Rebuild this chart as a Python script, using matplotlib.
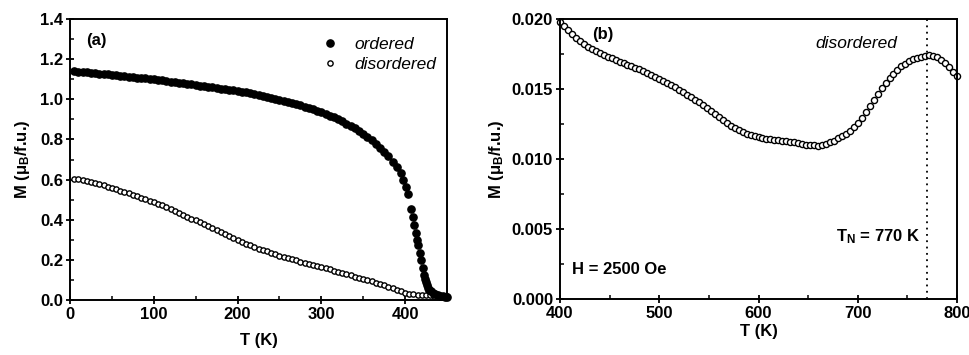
import numpy as np
import matplotlib
matplotlib.use('Agg')
from matplotlib import pyplot as plt

plt.rcParams['font.family'] = ['Liberation Sans', 'DejaVu Sans']
plt.rcParams['mathtext.fontset'] = 'custom'
plt.rcParams['mathtext.rm'] = 'Liberation Sans:bold'
plt.rcParams['mathtext.bf'] = 'Liberation Sans:bold'
plt.rcParams['mathtext.it'] = 'Liberation Sans:italic:bold'

# ---- panel (a) data ----
T_ord = list(range(5, 400, 5)) + [398, 401, 404, 407.5, 409.5, 411, 413, 414.5, 415.5, 417.5,
                                  419.5, 421.5, 423, 424, 425, 426, 427.5, 429, 431, 433,
                                  436, 439, 442, 445, 448, 450]
M_ord = [1.140, 1.138, 1.136, 1.134, 1.132, 1.130, 1.128, 1.126, 1.124, 1.121,
         1.119, 1.117, 1.115, 1.113, 1.111, 1.108, 1.106, 1.104, 1.101, 1.099,
         1.096, 1.094, 1.091, 1.088, 1.085, 1.083, 1.080, 1.077, 1.074, 1.071,
         1.068, 1.065, 1.062, 1.059, 1.056, 1.053, 1.050, 1.047, 1.044, 1.041,
         1.037, 1.034, 1.030, 1.026, 1.022, 1.018, 1.013, 1.008, 1.003, 0.998,
         0.993, 0.988, 0.982, 0.976, 0.970, 0.963, 0.957, 0.950, 0.943, 0.936,
         0.928, 0.919, 0.910, 0.900, 0.890, 0.879, 0.867, 0.855, 0.842, 0.828,
         0.812, 0.796, 0.778, 0.759, 0.738, 0.715, 0.690, 0.662, 0.632,
         0.600, 0.565, 0.530, 0.455, 0.415, 0.374, 0.335, 0.300, 0.274, 0.236,
         0.200, 0.158, 0.125, 0.105, 0.088, 0.075, 0.062, 0.052, 0.043, 0.036,
         0.029, 0.024, 0.021, 0.019, 0.017, 0.016]

T_dis = np.arange(5, 451, 5)
M_dis = [0.603, 0.601, 0.598, 0.594, 0.589, 0.583, 0.577, 0.571, 0.565, 0.558,
         0.552, 0.545, 0.538, 0.531, 0.524, 0.516, 0.509, 0.501, 0.494, 0.487,
         0.479, 0.471, 0.462, 0.453, 0.444, 0.435, 0.425, 0.416, 0.406, 0.397,
         0.387, 0.377, 0.367, 0.357, 0.347, 0.337, 0.327, 0.317, 0.308, 0.298,
         0.289, 0.281, 0.272, 0.264, 0.256, 0.249, 0.242, 0.235, 0.228, 0.221,
         0.215, 0.209, 0.203, 0.197, 0.191, 0.186, 0.180, 0.174, 0.169, 0.163,
         0.157, 0.152, 0.146, 0.140, 0.134, 0.128, 0.123, 0.117, 0.111, 0.105,
         0.099, 0.093, 0.087, 0.081, 0.074, 0.066, 0.058, 0.050, 0.043, 0.037,
         0.032, 0.029, 0.027, 0.025, 0.024, 0.023, 0.022, 0.021, 0.020, 0.020]

# ---- panel (b) data ----
T_b = np.arange(400, 801, 4)
M_b = [0.01980, 0.01950, 0.01920, 0.01890, 0.01865, 0.01840, 0.01820, 0.01800, 0.01785, 0.01770,
       0.01755, 0.01742, 0.01730, 0.01718, 0.01706, 0.01695, 0.01684, 0.01673, 0.01662, 0.01651,
       0.01640, 0.01627, 0.01614, 0.01601, 0.01587, 0.01573, 0.01558, 0.01543, 0.01527, 0.01511,
       0.01494, 0.01477, 0.01460, 0.01442, 0.01424, 0.01405, 0.01385, 0.01364, 0.01342, 0.01320,
       0.01298, 0.01277, 0.01257, 0.01239, 0.01222, 0.01207, 0.01193, 0.01181, 0.01171, 0.01162,
       0.01155, 0.01150, 0.01146, 0.01142, 0.01138, 0.01134, 0.01130, 0.01126, 0.01122, 0.01118,
       0.01112, 0.01105, 0.01100, 0.01098, 0.01097, 0.01095, 0.01098, 0.01110, 0.01118, 0.01130,
       0.01148, 0.01165, 0.01182, 0.01202, 0.01228, 0.01258, 0.01295, 0.01335, 0.01378, 0.01422,
       0.01465, 0.01505, 0.01543, 0.01578, 0.01610, 0.01638, 0.01662, 0.01682, 0.01698, 0.01711,
       0.01722, 0.01732, 0.01738, 0.01740, 0.01736, 0.01725, 0.01708, 0.01687, 0.01658, 0.01622,
       0.01595]
T_N = 770

fig = plt.figure(figsize=(9.69, 3.55), dpi=100)
ax1 = fig.add_axes([70/969, 1 - 300/355, 377/969, 281/355])
ax2 = fig.add_axes([560/969, 1 - 299/355, 397/969, 280/355])

fs = 12
ylab = r'M ($\mathregular{\mu}_\mathregular{B}$/f.u.)'


def style(ax):
    for s in ax.spines.values():
        s.set_linewidth(1.4)
    ax.tick_params(which='major', direction='inout', length=6, width=1.3,
                   top=False, right=False, labelsize=fs, pad=2)
    ax.tick_params(which='minor', direction='in', length=3, width=1.1,
                   top=False, right=False)
    for lab in ax.get_xticklabels() + ax.get_yticklabels():
        lab.set_fontweight('bold')


# panel (a)
ax1.plot(T_ord, M_ord, 'o', color='black', ms=5.2, mec='black', label='ordered', clip_on=False, zorder=3)
ax1.plot(T_dis, M_dis, 'o', mfc='white', mec='black', ms=3.8, mew=1.0, label='disordered', clip_on=False)
ax1.set_xlim(0, 450)
ax1.set_ylim(0, 1.4)
ax1.set_xticks([0, 100, 200, 300, 400])
ax1.set_xticks(np.arange(50, 451, 100), minor=True)
ax1.set_yticks(np.arange(0, 1.41, 0.2))
ax1.set_yticks(np.arange(0.1, 1.4, 0.2), minor=True)
ax1.yaxis.set_major_formatter(matplotlib.ticker.FormatStrFormatter('%.1f'))
ax1.set_xlabel('T (K)', fontsize=fs, fontweight='bold', labelpad=8)
ax1.set_ylabel(ylab, fontsize=fs, fontweight='bold', labelpad=6)
ax1.text(0.042, 0.925, '(a)', transform=ax1.transAxes, fontsize=fs, fontweight='bold', va='center')
leg = ax1.legend(loc='upper right', bbox_to_anchor=(1.0, 0.975), frameon=False,
                 prop={'style': 'italic', 'size': 12.5}, borderaxespad=0.2,
                 handlelength=1.0, handletextpad=0.9, labelspacing=0.3, markerscale=1.0)
style(ax1)

# panel (b)
ax2.plot(T_b, M_b, 'o', mfc='white', mec='black', ms=4.4, mew=1.0, clip_on=False)
ax2.axvline(T_N, color='black', ls=(0, (1, 2.5)), lw=1.3)
ax2.set_xlim(400, 800)
ax2.set_ylim(0, 0.020)
ax2.set_xticks([400, 500, 600, 700, 800])
ax2.set_xticks(np.arange(450, 800, 100), minor=True)
ax2.set_yticks(np.arange(0, 0.0201, 0.005))
ax2.set_yticks(np.arange(0.0025, 0.02, 0.005), minor=True)
ax2.yaxis.set_major_formatter(matplotlib.ticker.FormatStrFormatter('%.3f'))
ax2.set_xlabel('T (K)', fontsize=fs, fontweight='bold', labelpad=2)
ax2.set_ylabel(ylab, fontsize=fs, fontweight='bold', labelpad=4)
ax2.text(0.081, 0.943, '(b)', transform=ax2.transAxes, fontsize=fs, fontweight='bold', va='center')
ax2.text(0.849, 0.914, 'disordered', transform=ax2.transAxes, fontsize=12.5, style='italic', ha='right', va='center')
ax2.text(0.907, 0.221, r'T$_\mathregular{N}$ = 770 K', transform=ax2.transAxes, fontsize=fs,
         fontweight='bold', ha='right', va='center')
ax2.text(0.03, 0.104, 'H = 2500 Oe', transform=ax2.transAxes, fontsize=fs, fontweight='bold', va='center')
style(ax2)

fig.savefig('out.png', dpi=100)
